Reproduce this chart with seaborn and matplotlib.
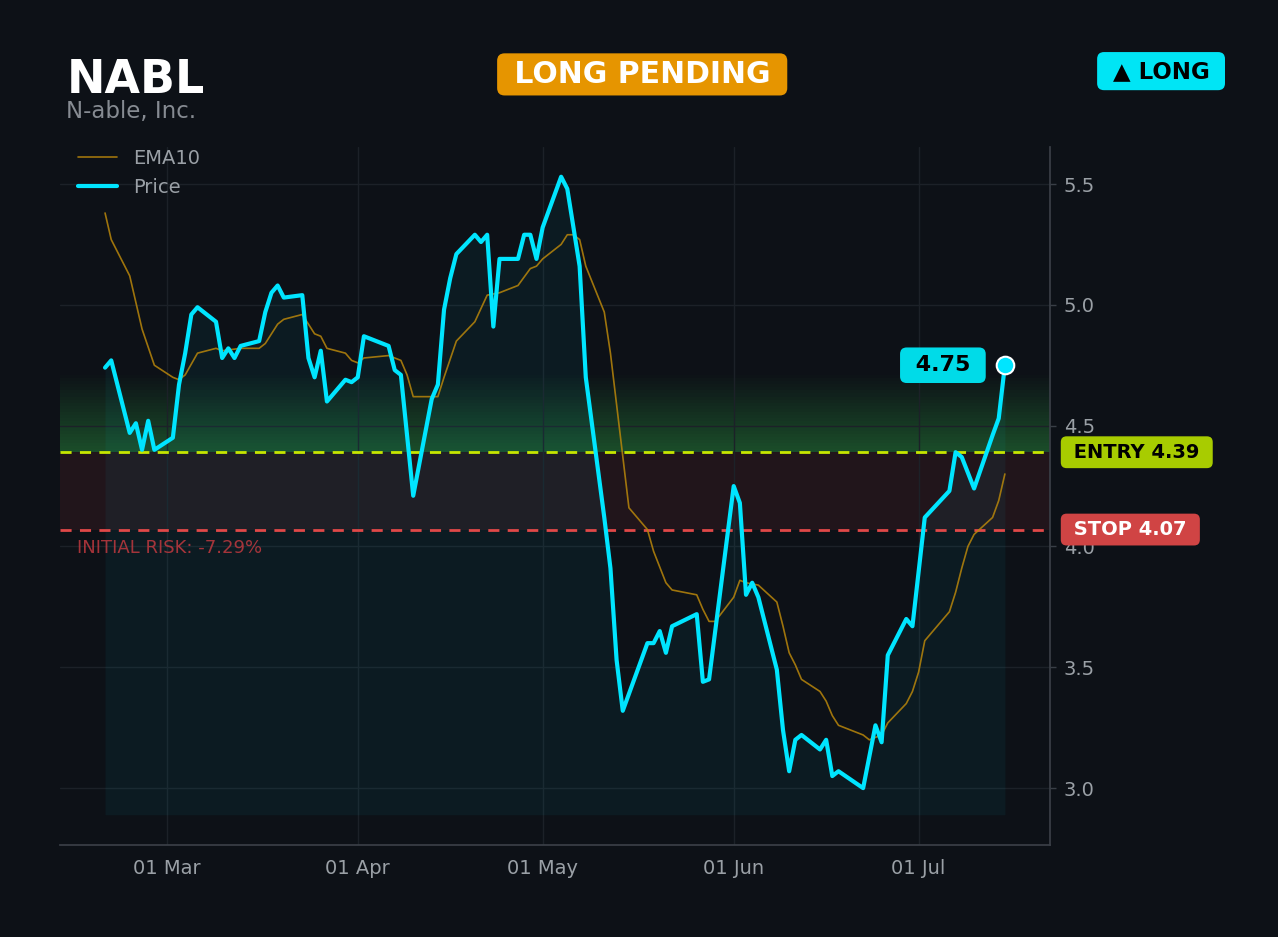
import numpy as np
import pandas as pd
import matplotlib
matplotlib.use("Agg")
import matplotlib.pyplot as plt
import matplotlib.dates as mdates
import matplotlib.transforms as mtransforms
import seaborn as sns

ticker = "NABL"
company = "N-able, Inc."
status = "LONG PENDING"
side = "▲ LONG"
entry = 4.39
stop = 4.07
last_price = 4.75
risk_pct = -7.29

price_dates = [
    "2026-02-19", "2026-02-20", "2026-02-23", "2026-02-24", "2026-02-25", "2026-02-26",
    "2026-02-27", "2026-03-02", "2026-03-03", "2026-03-04", "2026-03-05", "2026-03-06",
    "2026-03-09", "2026-03-10", "2026-03-11", "2026-03-12", "2026-03-13", "2026-03-16",
    "2026-03-17", "2026-03-18", "2026-03-19", "2026-03-20", "2026-03-23", "2026-03-24",
    "2026-03-25", "2026-03-26", "2026-03-27", "2026-03-30", "2026-03-31", "2026-04-01",
    "2026-04-02", "2026-04-06", "2026-04-07", "2026-04-08", "2026-04-10", "2026-04-13",
    "2026-04-14", "2026-04-15", "2026-04-16", "2026-04-17", "2026-04-20", "2026-04-21",
    "2026-04-22", "2026-04-23", "2026-04-24", "2026-04-27", "2026-04-28", "2026-04-29",
    "2026-04-30", "2026-05-01", "2026-05-04", "2026-05-05", "2026-05-07", "2026-05-08",
    "2026-05-11", "2026-05-12", "2026-05-13", "2026-05-14", "2026-05-18", "2026-05-19",
    "2026-05-20", "2026-05-21", "2026-05-22", "2026-05-26", "2026-05-27", "2026-05-28",
    "2026-06-01", "2026-06-02", "2026-06-03", "2026-06-04", "2026-06-05", "2026-06-08",
    "2026-06-09", "2026-06-10", "2026-06-11", "2026-06-12", "2026-06-15", "2026-06-16",
    "2026-06-17", "2026-06-18", "2026-06-22", "2026-06-24", "2026-06-25", "2026-06-26",
    "2026-06-29", "2026-06-30", "2026-07-02", "2026-07-06", "2026-07-07", "2026-07-08",
    "2026-07-10", "2026-07-13", "2026-07-14", "2026-07-15",
]
price_close = [
    4.74, 4.77, 4.47, 4.51, 4.40, 4.52,
    4.40, 4.45, 4.67, 4.80, 4.96, 4.99,
    4.93, 4.78, 4.82, 4.78, 4.83, 4.85,
    4.97, 5.05, 5.08, 5.03, 5.04, 4.78,
    4.70, 4.81, 4.60, 4.69, 4.68, 4.70,
    4.87, 4.83, 4.73, 4.71, 4.21, 4.61,
    4.67, 4.98, 5.11, 5.21, 5.29, 5.26,
    5.29, 4.91, 5.19, 5.19, 5.29, 5.29,
    5.19, 5.32, 5.53, 5.48, 5.16, 4.70,
    4.12, 3.91, 3.53, 3.32, 3.60, 3.60,
    3.65, 3.56, 3.67, 3.72, 3.44, 3.45,
    4.25, 4.18, 3.80, 3.85, 3.79, 3.49,
    3.24, 3.07, 3.20, 3.22, 3.16, 3.20,
    3.05, 3.07, 3.00, 3.26, 3.19, 3.55,
    3.70, 3.67, 4.12, 4.23, 4.39, 4.37,
    4.24, 4.46, 4.53, 4.75,
]

ema_dates = [
    "2026-02-19", "2026-02-20", "2026-02-23", "2026-02-25", "2026-02-27", "2026-03-02",
    "2026-03-03", "2026-03-04", "2026-03-06", "2026-03-09", "2026-03-10", "2026-03-13",
    "2026-03-16", "2026-03-17", "2026-03-19", "2026-03-20", "2026-03-23", "2026-03-24",
    "2026-03-25", "2026-03-26", "2026-03-27", "2026-03-30", "2026-03-31", "2026-04-01",
    "2026-04-02", "2026-04-06", "2026-04-08", "2026-04-09", "2026-04-10", "2026-04-14",
    "2026-04-15", "2026-04-17", "2026-04-20", "2026-04-22", "2026-04-24", "2026-04-27",
    "2026-04-29", "2026-04-30", "2026-05-01", "2026-05-04", "2026-05-05", "2026-05-06",
    "2026-05-07", "2026-05-08", "2026-05-11", "2026-05-12", "2026-05-15", "2026-05-18",
    "2026-05-19", "2026-05-21", "2026-05-22", "2026-05-26", "2026-05-27", "2026-05-28",
    "2026-05-29", "2026-06-01", "2026-06-02", "2026-06-03", "2026-06-05", "2026-06-08",
    "2026-06-09", "2026-06-10", "2026-06-11", "2026-06-12", "2026-06-15", "2026-06-16",
    "2026-06-17", "2026-06-18", "2026-06-22", "2026-06-23", "2026-06-24", "2026-06-25",
    "2026-06-26", "2026-06-29", "2026-06-30", "2026-07-01", "2026-07-02", "2026-07-06",
    "2026-07-07", "2026-07-08", "2026-07-09", "2026-07-10", "2026-07-13", "2026-07-14",
    "2026-07-15",
]
ema10 = [
    5.38, 5.27, 5.12, 4.90, 4.75, 4.70,
    4.69, 4.71, 4.80, 4.82, 4.81, 4.82,
    4.82, 4.84, 4.92, 4.94, 4.96, 4.92,
    4.88, 4.87, 4.82, 4.80, 4.77, 4.76,
    4.78, 4.79, 4.77, 4.71, 4.62, 4.62,
    4.70, 4.85, 4.93, 5.04, 5.05, 5.08,
    5.15, 5.16, 5.19, 5.25, 5.29, 5.29,
    5.27, 5.16, 4.97, 4.80, 4.16, 4.07,
    3.98, 3.85, 3.82, 3.80, 3.74, 3.69,
    3.69, 3.79, 3.86, 3.85, 3.84, 3.77,
    3.67, 3.56, 3.51, 3.45, 3.40, 3.36,
    3.30, 3.26, 3.22, 3.20, 3.21, 3.22,
    3.27, 3.35, 3.40, 3.48, 3.61, 3.73,
    3.81, 3.91, 4.00, 4.05, 4.12, 4.19,
    4.30,
]

BG = "#0d1117"
CYAN = "#00e5ff"
GOLD = "#b8860b"
GREY = "#9aa0a6"

sns.set_theme(style="dark", rc={
    "figure.facecolor": BG, "axes.facecolor": BG, "savefig.facecolor": BG,
    "axes.edgecolor": "#3a3f47", "grid.color": "#1c2128",
    "xtick.color": GREY, "ytick.color": GREY, "text.color": GREY,
})
plt.rcParams["font.family"] = ["DejaVu Sans"]

price = pd.DataFrame({"date": pd.to_datetime(price_dates), "close": price_close})
ema = pd.DataFrame({"date": pd.to_datetime(ema_dates), "ema": ema10})

fig = plt.figure(figsize=(12.78, 9.371), dpi=100)
ax = fig.add_axes([0.047, 0.098, 0.7745, 0.745])

# risk zone and target gradient
ax.axhspan(stop, entry, color="#ef4444", alpha=0.09, lw=0, zorder=0)
target = entry + (entry - stop)
edges = np.linspace(entry, target, 26)
for i in range(25):
    ax.axhspan(edges[i], edges[i + 1], color="#2ea043",
               alpha=0.42 * (1 - i / 25), lw=0, zorder=0)

ax.fill_between(price["date"], price["close"], 2.89, color=CYAN, alpha=0.05, lw=0, zorder=1)

sns.lineplot(data=ema, x="date", y="ema", ax=ax, color=GOLD, lw=1.2, alpha=0.85,
             label="EMA10", zorder=3)
sns.lineplot(data=price, x="date", y="close", ax=ax, color=CYAN, lw=3,
             label="Price", zorder=4)

ax.axhline(entry, color="#c6e600", lw=2, ls=(0, (4, 3)), zorder=2)
ax.axhline(stop, color="#e04848", lw=2, ls=(0, (4, 3)), zorder=2)

ax.scatter([price["date"].iloc[-1]], [last_price], s=160, color=CYAN,
           edgecolor="white", linewidth=1.5, zorder=6)
ax.annotate(f" {last_price:.2f} ", xy=(price["date"].iloc[-1], last_price),
            xytext=(-62, 0), textcoords="offset pixels", ha="center", va="center",
            fontsize=16, fontweight="bold", color="black",
            bbox=dict(boxstyle="round,pad=0.35,rounding_size=0.3", fc="#00dbe8", ec="none"),
            zorder=7)

trans = mtransforms.blended_transform_factory(ax.transAxes, ax.transData)
ax.text(1.0175, entry, f" ENTRY {entry:.2f} ", transform=trans, ha="left", va="center",
        fontsize=14, fontweight="bold", color="black",
        bbox=dict(boxstyle="round,pad=0.33,rounding_size=0.3", fc="#a8cc00", ec="none"))
ax.text(1.0175, stop, f" STOP {stop:.2f} ", transform=trans, ha="left", va="center",
        fontsize=14, fontweight="bold", color="white",
        bbox=dict(boxstyle="round,pad=0.33,rounding_size=0.3", fc="#d04444", ec="none"))
ax.text(0.017, stop - 0.04, f"INITIAL RISK: {risk_pct:.2f}%", transform=trans,
        ha="left", va="top", fontsize=13, color="#c0393f", alpha=0.85)

ax.set_ylim(2.764, 5.653)
ax.set_yticks([3.0, 3.5, 4.0, 4.5, 5.0, 5.5])
ax.yaxis.set_major_formatter(matplotlib.ticker.FormatStrFormatter("%.1f"))
ax.yaxis.tick_right()
ax.xaxis.set_major_locator(mdates.MonthLocator())
ax.xaxis.set_major_formatter(mdates.DateFormatter("%d %b"))
ax.tick_params(axis="both", labelsize=14, length=4, width=1, color="#3a3f47", pad=6)
ax.set_xlabel("")
ax.set_ylabel("")
ax.grid(True, color="#1c2128", lw=1)
for s in ["top", "left"]:
    ax.spines[s].set_visible(False)
for s in ["bottom", "right"]:
    ax.spines[s].set_color("#3a3f47")

leg = ax.legend(loc="upper left", bbox_to_anchor=(0.0105, 1.008), borderaxespad=0,
                frameon=False, fontsize=14, labelcolor=GREY, handlelength=2.0)

fig.text(0.052, 0.914, ticker, fontsize=33, fontweight="bold", color="white", va="center")
fig.text(0.052, 0.8815, company, fontsize=16.5, color="#868b92", va="center")
fig.text(0.5025, 0.9205, f" {status} ", fontsize=21.5, fontweight="bold", color="white",
         ha="center", va="center",
         bbox=dict(boxstyle="round,pad=0.22,rounding_size=0.25", fc="#e69500", ec="none"))
fig.text(0.9085, 0.924, f" {side} ", fontsize=16.5, fontweight="bold", color="black",
         ha="center", va="center",
         bbox=dict(boxstyle="round,pad=0.33,rounding_size=0.3", fc="#00e5f5", ec="none"))

fig.savefig("out.png", dpi=100, facecolor=BG)
